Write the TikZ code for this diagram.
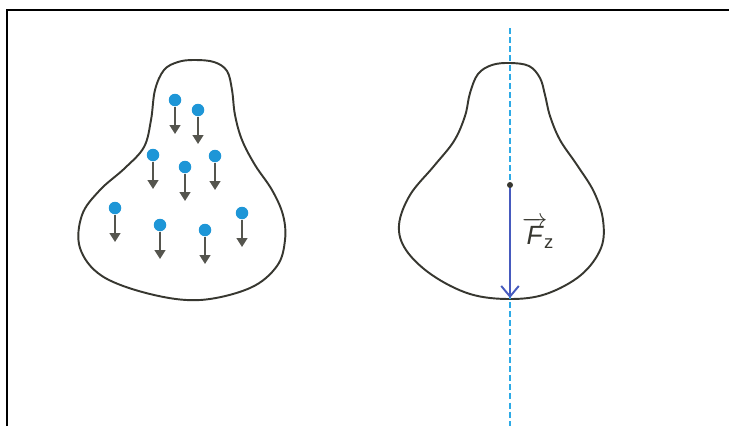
\documentclass[tikz,border=0pt]{standalone}
\usepackage{amsmath}
\usepackage{fontspec}
\setsansfont{Liberation Sans}
\usepackage{tikz}
\usepackage{xcolor}
\usetikzlibrary{arrows.meta, positioning}
\definecolor{bodyline}{RGB}{55,55,48}
\definecolor{dotblue}{RGB}{30,150,215}
\definecolor{wgray}{RGB}{85,85,78}
\definecolor{forceblue}{RGB}{70,90,190}
\definecolor{axiscyan}{RGB}{45,170,230}
\tikzset{
  outline/.style={draw=bodyline, line width=1.1pt},
  particle/.style={circle, fill=dotblue, inner sep=0pt, minimum size=0.25cm},
  weight/.style={-{Triangle[length=5pt, width=6pt]}, draw=wgray, line width=1.1pt},
  cgdot/.style={circle, fill=bodyline, inner sep=0pt, minimum size=0.12cm},
  force/.style={-{Straight Barb[length=6pt, width=10pt, line width=1.1pt]},
                draw=forceblue, line width=1.2pt},
  axis/.style={draw=axiscyan, line width=1.1pt, dash pattern=on 3.4pt off 1.8pt},
}

\begin{document}
\begin{tikzpicture}[x=0.02cm, y=-0.02cm]
  \useasboundingbox (0,0) rectangle (729,426);
  % frame
  \draw[line width=1.7pt] (7,426) -- (7,10) -- (729,10);

  % left body with particles
  \draw[outline] plot[smooth cycle, tension=0.6] coordinates {
    (194,60) (214,62) (227,71) (232,90) (235,115) (242,140) (255,165)
    (272,190) (283,215) (285,240) (277,266) (250,288) (200,300)
    (150,294) (102,276) (80,248) (82,215) (100,190) (125,168)
    (144,147) (151,120) (155,90) (164,70) (178,62)};

  \foreach \i/\x/\y in {1/175/100, 2/198/110, 3/153/155, 4/185/167, 5/215/156,
                        6/115/208, 7/160/225, 8/205/230, 9/242/213} {
    \node[particle] (p\i) at (\x,\y) {};
    \path (p\i) ++(0,34) coordinate (q\i);
    \draw[weight] (p\i) -- (q\i);
  }

  % right body with centre of gravity
  \draw[outline] plot[smooth cycle, tension=0.6] coordinates {
    (510,63) (529,66) (540,78) (545,95) (550,116) (560,140) (577,165)
    (594,192) (603,220) (601,248) (581,275) (546,294) (510,299)
    (470,294) (432,275) (406,250) (399,225) (410,195) (434,166)
    (454,141) (465,116) (470,93) (478,74) (492,65)};

  \coordinate (top) at (510,28);
  \coordinate (bot) at (510,426);
  \draw[axis] (top) -- (bot);

  \node[cgdot] (cg) at (510,185) {};
  \coordinate (tip) at (510,298);
  \draw[force] (cg) -- (tip);

  \node[right=0.05cm of cg, yshift=-0.95cm, text=bodyline, font=\sffamily\fontsize{15}{17}\selectfont]
    (fz) {$\overrightarrow{\textsf{\itshape F}}_{\!\textsf{z}}$};
\end{tikzpicture}
\end{document}
